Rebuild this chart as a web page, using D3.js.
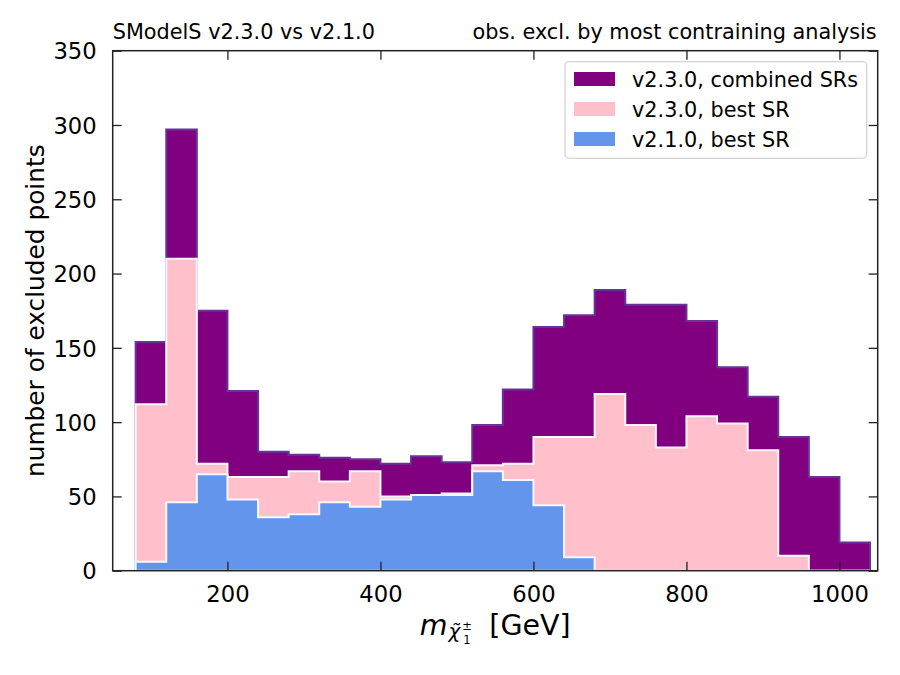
<!DOCTYPE html>
<html>
<head>
<meta charset="utf-8">
<script src="https://cdn.jsdelivr.net/npm/d3@7"></script>
<style>
  html, body { margin: 0; padding: 0; background: #fff; }
  svg { display: block; font-family: "DejaVu Sans", sans-serif; }
</style>
</head>
<body>
<svg id="chart" width="900" height="675"></svg>
<script>
// ---- data ----
const binEdges = [80, 120, 160, 200, 240, 280, 320, 360, 400, 440, 480, 520, 560, 600,
                  640, 680, 720, 760, 800, 840, 880, 920, 960, 1000, 1040];
const combinedV230 = [154, 297, 175, 121, 80, 78, 76, 75, 72, 77, 73, 98, 122, 164,
                      172, 189, 179, 179, 168, 137, 117, 90, 63, 19];
const bestV230 = [112, 210, 72, 63, 63, 67, 60, 67, 50, 51, 52, 71, 72, 90,
                  90, 119, 98, 83, 104, 99, 81, 10, 0, 0];
const bestV210 = [6, 46, 65, 48, 36, 38, 46, 43, 48, 51, 51, 67, 61, 44,
                  9, 0, 0, 0, 0, 0, 0, 0, 0, 0];
const seriesNames = ["v2.3.0, combined SRs", "v2.3.0, best SR", "v2.1.0, best SR"];
const xTicks = [200, 400, 600, 800, 1000];
const yTicks = [0, 50, 100, 150, 200, 250, 300, 350];
const titleLeft = "SModelS v2.3.0 vs v2.1.0";
const titleRight = "obs. excl. by most contraining analysis";
const yLabel = "number of excluded points";

// ---- layout ----
const L = 112.7, R = 877.7, T = 50.7, B = 570.7;
const svg = d3.select("#chart");
const x = d3.scaleLinear().domain([50, 1050]).range([L, R]);
const y = d3.scaleLinear().domain([0, 350]).range([B, T]);

const series = [
  { name: seriesNames[0], values: combinedV230, fill: "#800080", stroke: "#663399" },
  { name: seriesNames[1], values: bestV230, fill: "#ffc0cb", stroke: "#f4f8ff" },
  { name: seriesNames[2], values: bestV210, fill: "#6495ed", stroke: "#f4f8ff" }
];

function stepPoints(values) {
  const pts = [[binEdges[0], 0]];
  values.forEach((v, i) => {
    pts.push([binEdges[i], v]);
    pts.push([binEdges[i + 1], v]);
  });
  pts.push([binEdges[binEdges.length - 1], 0]);
  return pts;
}
const line = d3.line().x(d => x(d[0])).y(d => y(d[1]));

const plot = svg.append("g");
plot.append("defs").append("clipPath").attr("id", "clip")
  .append("rect").attr("x", L).attr("y", T).attr("width", R - L).attr("height", B - T);

const hg = plot.append("g").attr("clip-path", "url(#clip)");
series.forEach(s => {
  hg.append("path")
    .attr("d", line(stepPoints(s.values)) + "Z")
    .attr("fill", s.fill)
    .attr("stroke", s.stroke)
    .attr("stroke-width", 2)
    .attr("stroke-linejoin", "miter");
});

// ---- axes (ticks inward on all sides) ----
const tickLen = 9;
const axisColor = "#222";
const ax = svg.append("g");
const xb = ax.append("g").attr("transform", `translate(0,${B})`)
  .call(d3.axisBottom(x).tickValues(xTicks).tickFormat(d3.format("d"))
    .tickSizeInner(-tickLen).tickSizeOuter(0).tickPadding(tickLen + 6));
const xt = ax.append("g").attr("transform", `translate(0,${T})`)
  .call(d3.axisTop(x).tickValues(xTicks).tickSizeInner(-tickLen).tickSizeOuter(0).tickFormat(""));
const yl = ax.append("g").attr("transform", `translate(${L},0)`)
  .call(d3.axisLeft(y).tickValues(yTicks).tickFormat(d3.format("d"))
    .tickSizeInner(-tickLen).tickSizeOuter(0).tickPadding(tickLen + 7));
const yr = ax.append("g").attr("transform", `translate(${R},0)`)
  .call(d3.axisRight(y).tickValues(yTicks).tickSizeInner(-tickLen).tickSizeOuter(0).tickFormat(""));
[xb, xt, yl, yr].forEach(g => {
  g.select(".domain").remove();
  g.selectAll(".tick line").attr("stroke", axisColor).attr("stroke-width", 1.3);
  g.selectAll(".tick text").attr("fill", "#000").style("font-size", "22.7px")
    .style("font-family", "'DejaVu Sans', sans-serif");
});
xb.selectAll(".tick text").attr("dy", "0.71em");
yl.selectAll(".tick text").attr("dy", "0.36em");

// spines
ax.append("rect").attr("x", L).attr("y", T).attr("width", R - L).attr("height", B - T)
  .attr("fill", "none").attr("stroke", axisColor).attr("stroke-width", 1.5);

// ---- titles ----
svg.append("text").attr("x", L).attr("y", 38.5).attr("font-size", 20.8).attr("fill", "#000")
  .text(titleLeft);
svg.append("text").attr("x", R - 1).attr("y", 38.5).attr("font-size", 20.8).attr("fill", "#000")
  .attr("text-anchor", "end").text(titleRight);

// ---- y label ----
svg.append("text").attr("transform", `translate(43.5,${(T + B) / 2}) rotate(-90)`)
  .attr("text-anchor", "middle").attr("font-size", 24.8).attr("fill", "#000").text(yLabel);

// ---- x label (math), one text element with positioned tspans ----
const cx = (L + R) / 2, base = 635;
const xlab = svg.append("text").attr("fill", "#000");
const tm = xlab.append("tspan").attr("y", base).attr("font-size", 28.5).attr("font-style", "italic").text("m");
const tchi = xlab.append("tspan").attr("y", base + 3).attr("font-size", 20).attr("font-style", "italic").text("χ̃");
const tpm = xlab.append("tspan").attr("y", base - 5.5).attr("font-size", 11.5).text("±");
const tone = xlab.append("tspan").attr("y", base + 9).attr("font-size", 11.5).text("1");
const tgev = xlab.append("tspan").attr("y", base).attr("font-size", 28.5).text("[GeV]");
const wm = tm.node().getComputedTextLength();
const wchi = tchi.node().getComputedTextLength();
const wpm = 11;
const wg = tgev.node().getComputedTextLength();
const gap = 16;
const total = wm + 1 + wchi + 2 + wpm + gap + wg;
let x0 = cx - total / 2;
tm.attr("x", x0); x0 += wm + 1;
tchi.attr("x", x0); x0 += wchi + 2;
tpm.attr("x", x0); tone.attr("x", x0 + 1); x0 += wpm + gap;
tgev.attr("x", x0);

// ---- legend ----
const lg = svg.append("g");
lg.append("rect").attr("x", 565).attr("y", 61.7).attr("width", 301.7).attr("height", 96.6)
  .attr("rx", 4).attr("fill", "#fff").attr("fill-opacity", 0.8)
  .attr("stroke", "#d3d3d3").attr("stroke-width", 1.3);
series.forEach((s, i) => {
  const cy = 79 + i * 30;
  lg.append("rect").attr("x", 574).attr("y", cy - 7).attr("width", 41).attr("height", 14)
    .attr("fill", s.fill);
  lg.append("text").attr("x", 632).attr("y", cy + 7.5).attr("font-size", 20.8).attr("fill", "#000")
    .text(s.name);
});
</script>
</body>
</html>
